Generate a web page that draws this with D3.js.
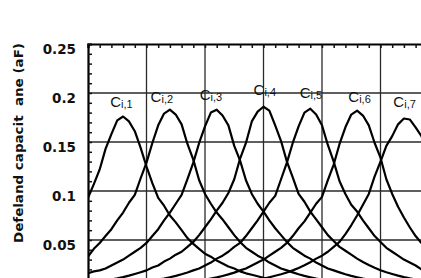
<!DOCTYPE html>
<html>
<head>
<meta charset="utf-8">
<script src="https://cdn.jsdelivr.net/npm/d3@7"></script>
<style>
  html, body { margin: 0; padding: 0; background: #fff; }
  svg { display: block; }
  .axis-text { font-family: 'DejaVu Sans', sans-serif; font-weight: bold; fill: #111; }
  .curve-label { font-family: 'Liberation Sans', Arial, sans-serif; fill: #111; }
</style>
</head>
<body>
<svg id="chart" width="421" height="278"></svg>
<script>
// sweep positions (arbitrary units, one grid cell = 1)
const xs = [0, 0.1, 0.2, 0.3, 0.4, 0.5, 0.6, 0.7, 0.8, 0.9,
  1, 1.1, 1.2, 1.3, 1.4, 1.5, 1.6, 1.7, 1.8, 1.9,
  2, 2.1, 2.2, 2.3, 2.4, 2.5, 2.6, 2.7, 2.8, 2.9,
  3, 3.1, 3.2, 3.3, 3.4, 3.5, 3.6, 3.7, 3.8, 3.9,
  4, 4.1, 4.2, 4.3, 4.4, 4.5, 4.6, 4.7, 4.8, 4.9,
  5, 5.1, 5.2, 5.3, 5.4, 5.5, 5.6, 5.7, 5.8];

// capacitance (aF) of each island
const c1 = [0.093, 0.107, 0.122, 0.143, 0.158, 0.172, 0.176, 0.171, 0.161, 0.144,
  0.125, 0.108, 0.093, 0.085, 0.075, 0.068, 0.060, 0.052, 0.046, 0.041,
  0.036, 0.033, 0.029, 0.026, 0.023, 0.021, 0.018, 0.016, 0.0145, 0.013,
  0.0115, 0.0102, 0.0092, 0.0082, 0.0072, 0.0065, 0.0058, 0.0052, 0.0047, 0.0042,
  0.0038, 0.0034, 0.003, 0.0027, 0.0024, 0.0022, 0.002, 0.0018, 0.0016, 0.0015,
  0.0014, 0.0013, 0.0012, 0.0011, 0.001, 0.001, 0.0009, 0.0009, 0.0008];
const c2 = [0.033, 0.041, 0.047, 0.054, 0.061, 0.070, 0.078, 0.088, 0.096, 0.113,
  0.129, 0.149, 0.167, 0.179, 0.183, 0.178, 0.168, 0.148, 0.132, 0.111,
  0.097, 0.087, 0.078, 0.071, 0.063, 0.055, 0.048, 0.042, 0.038, 0.034,
  0.031, 0.027, 0.024, 0.021, 0.019, 0.017, 0.015, 0.0134, 0.012, 0.0106,
  0.0095, 0.0084, 0.0075, 0.0068, 0.006, 0.0055, 0.005, 0.0044, 0.004, 0.0037,
  0.0033, 0.003, 0.0027, 0.0025, 0.0023, 0.002, 0.0019, 0.0018, 0.0016];
const c3 = [0.016, 0.018, 0.019, 0.021, 0.024, 0.027, 0.030, 0.034, 0.038, 0.042,
  0.047, 0.054, 0.061, 0.070, 0.078, 0.087, 0.096, 0.112, 0.129, 0.149,
  0.166, 0.180, 0.183, 0.177, 0.167, 0.146, 0.131, 0.111, 0.097, 0.087,
  0.079, 0.070, 0.062, 0.055, 0.048, 0.042, 0.038, 0.034, 0.031, 0.027,
  0.024, 0.021, 0.019, 0.017, 0.015, 0.0134, 0.012, 0.0106, 0.0095, 0.0084,
  0.0075, 0.0068, 0.006, 0.0055, 0.005, 0.0044, 0.004, 0.0037, 0.0033];
const c4 = [0.0061, 0.0069, 0.0076, 0.0086, 0.0097, 0.0108, 0.0121, 0.0136, 0.0153, 0.0171,
  0.019, 0.022, 0.024, 0.028, 0.031, 0.035, 0.038, 0.043, 0.048, 0.055,
  0.063, 0.071, 0.080, 0.088, 0.098, 0.112, 0.133, 0.149, 0.171, 0.181,
  0.186, 0.182, 0.167, 0.151, 0.130, 0.114, 0.097, 0.089, 0.079, 0.071,
  0.063, 0.055, 0.049, 0.043, 0.039, 0.035, 0.031, 0.0275, 0.0244, 0.0216,
  0.0192, 0.0171, 0.0153, 0.0136, 0.0121, 0.0108, 0.0097, 0.0086, 0.0076];
const c5 = [0.0026, 0.0029, 0.0033, 0.0037, 0.004, 0.0044, 0.005, 0.0055, 0.0061, 0.0068,
  0.0075, 0.0085, 0.0096, 0.0107, 0.012, 0.0134, 0.0151, 0.0169, 0.019, 0.021,
  0.024, 0.027, 0.031, 0.034, 0.038, 0.043, 0.047, 0.054, 0.062, 0.070,
  0.079, 0.088, 0.095, 0.112, 0.129, 0.149, 0.166, 0.180, 0.184, 0.178,
  0.167, 0.147, 0.130, 0.110, 0.097, 0.086, 0.079, 0.070, 0.062, 0.054,
  0.048, 0.042, 0.038, 0.034, 0.030, 0.027, 0.024, 0.020, 0.018];
const c6 = [0.0011, 0.0012, 0.0013, 0.0015, 0.0016, 0.0018, 0.0021, 0.0023, 0.0025, 0.0029,
  0.0033, 0.0036, 0.004, 0.0044, 0.0049, 0.0055, 0.006, 0.0067, 0.0075, 0.0084,
  0.0095, 0.0106, 0.0118, 0.0133, 0.0149, 0.0167, 0.019, 0.021, 0.024, 0.027,
  0.030, 0.034, 0.038, 0.042, 0.047, 0.054, 0.062, 0.069, 0.078, 0.087,
  0.094, 0.111, 0.127, 0.148, 0.165, 0.178, 0.182, 0.177, 0.167, 0.149,
  0.134, 0.112, 0.097, 0.084, 0.073, 0.063, 0.054, 0.047, 0.041];
const c7 = [0.0007, 0.0008, 0.0008, 0.0009, 0.0009, 0.001, 0.0011, 0.0012, 0.0013, 0.0014,
  0.0015, 0.0016, 0.0017, 0.0018, 0.0019, 0.002, 0.0023, 0.0025, 0.0028, 0.0031,
  0.0035, 0.0039, 0.0043, 0.0048, 0.0054, 0.006, 0.0068, 0.0076, 0.0085, 0.0095,
  0.0106, 0.012, 0.0135, 0.0151, 0.0169, 0.019, 0.0215, 0.0243, 0.0273, 0.031,
  0.034, 0.038, 0.043, 0.048, 0.056, 0.065, 0.075, 0.086, 0.097, 0.115,
  0.130, 0.146, 0.156, 0.168, 0.174, 0.173, 0.165, 0.156, 0.140];

const curves = [c1, c2, c3, c4, c5, c6, c7];
const labelSubs = ['i,1', 'i,2', 'i,3', 'i,4', 'i,5', 'i,6', 'i,7'];
// label anchor (left edge, baseline) in data units
const labelX = [0.38, 1.07, 1.91, 2.83, 3.62, 4.45, 5.22];
const labelY = [0.186, 0.191, 0.193, 0.198, 0.195, 0.191, 0.186];

const yLabelValues = [0.05, 0.1, 0.15, 0.2, 0.25];
const gridX = [1, 2, 3, 4, 5, 6];
const gridY = [0.05, 0.1, 0.15, 0.2];
const yTitle = 'Defeland capacit\u00a0 ane (aF)';

const svg = d3.select('#chart');

const x = d3.scaleLinear().domain([0, 6]).range([88, 439]);
const y = d3.scaleLinear().domain([0, 0.25]).range([289, 44]);

svg.append('defs').append('clipPath').attr('id', 'plot-clip')
  .append('rect')
  .attr('x', x(0)).attr('y', y(0.25))
  .attr('width', x(6) - x(0)).attr('height', y(0) - y(0.25));

// grid
const grid = svg.append('g').attr('stroke', '#2a2a2a').attr('stroke-width', 1.3);
grid.selectAll('line.gx').data(gridX).join('line')
  .attr('class', 'gx')
  .attr('x1', d => x(d)).attr('x2', d => x(d))
  .attr('y1', y(0.25)).attr('y2', y(0));
grid.selectAll('line.gy').data(gridY).join('line')
  .attr('class', 'gy')
  .attr('x1', x(0)).attr('x2', x(6))
  .attr('y1', d => y(d)).attr('y2', d => y(d));

// minor ticks pointing into the plot
const topAxis = svg.append('g')
  .attr('transform', `translate(0,${y(0.25)})`)
  .call(d3.axisTop(x).ticks(30).tickSize(-4).tickFormat(''));
const leftAxis = svg.append('g')
  .attr('transform', `translate(${x(0)},0)`)
  .call(d3.axisLeft(y).ticks(25).tickSize(-4).tickFormat(''));
[topAxis, leftAxis].forEach(g => {
  g.select('.domain').attr('stroke', '#000').attr('stroke-width', 2.2);
  g.selectAll('.tick line').attr('stroke', '#111').attr('stroke-width', 1.5);
});

// curves
const line = d3.line()
  .x((_, i) => x(xs[i]))
  .y(d => y(d))
  .curve(d3.curveLinear);

svg.append('g').attr('clip-path', 'url(#plot-clip)')
  .selectAll('path.curve').data(curves).join('path')
  .attr('class', 'curve')
  .attr('fill', 'none')
  .attr('stroke', '#000')
  .attr('stroke-width', 2.2)
  .attr('stroke-linejoin', 'round')
  .attr('stroke-linecap', 'round')
  .attr('d', d => line(d));

// y tick labels
svg.append('g').selectAll('text').data(yLabelValues).join('text')
  .attr('class', 'axis-text')
  .attr('x', 76)
  .attr('y', d => y(d) + 10)
  .attr('text-anchor', 'end')
  .style('font-size', '13.5px')
  .text(d3.format('.2~f'));

// y title
svg.append('text')
  .attr('class', 'axis-text')
  .attr('transform', 'translate(23,143) rotate(-90)')
  .attr('text-anchor', 'middle')
  .attr('textLength', 200)
  .attr('lengthAdjust', 'spacingAndGlyphs')
  .style('font-size', '13px')
  .text(yTitle);

// curve labels
const labels = svg.append('g').selectAll('text').data(labelSubs).join('text')
  .attr('class', 'curve-label')
  .attr('x', (_, i) => x(labelX[i]))
  .attr('y', (_, i) => y(labelY[i]));
labels.append('tspan').style('font-size', '15px').text('C');
labels.append('tspan').style('font-size', '11px').attr('dy', 1).text(d => d);
</script>
</body>
</html>
